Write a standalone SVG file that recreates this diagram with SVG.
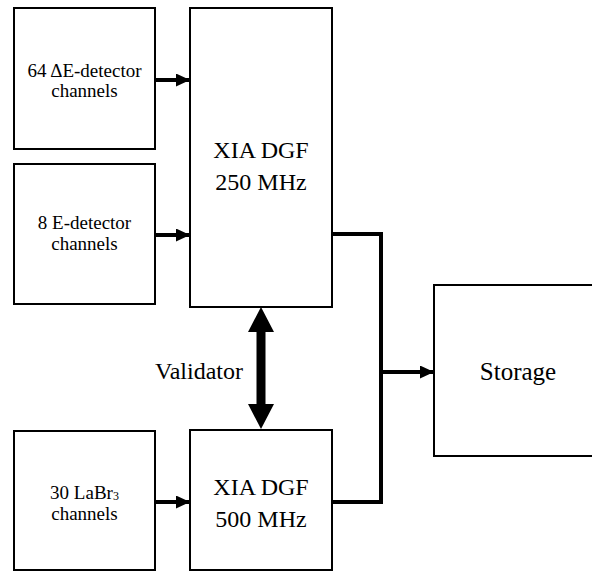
<svg xmlns="http://www.w3.org/2000/svg" width="592" height="572" viewBox="0 0 592 572">
<style>
.box{fill:#fff;stroke:#000;stroke-width:2}
.t{fill:#000;text-anchor:middle}
.s{font-size:19px}
.b{font-size:24px}
.w{fill:none;stroke:#000;stroke-width:4}
</style>
<defs>
<marker id="ah" viewBox="0 0 14 13" refX="14" refY="6.5" markerWidth="14" markerHeight="13" markerUnits="userSpaceOnUse" orient="auto">
<path d="M0,0 L14,6.5 L0,13 Z" fill="#000"/>
</marker>
</defs>
<rect width="592" height="572" fill="#fff"/>
<g font-family="Liberation Serif, Times New Roman, serif">
<g id="connectors">
<line class="w" x1="156" y1="80" x2="190" y2="80" marker-end="url(#ah)"/>
<line class="w" x1="156" y1="235" x2="190" y2="235" marker-end="url(#ah)"/>
<line class="w" x1="156" y1="502" x2="190" y2="502" marker-end="url(#ah)"/>
<polyline class="w" points="333,234 381,234 381,502 333,502"/>
<line class="w" x1="381" y1="372" x2="434" y2="372" marker-end="url(#ah)"/>
<path d="M261,307 L274,332 L265.5,332 L265.5,404 L274,404 L261,429 L248,404 L256.5,404 L256.5,332 L248,332 Z" fill="#000"/>
<text class="t b" x="199" y="379">Validator</text>
</g>
<g id="de">
<rect class="box" x="14" y="8" width="141" height="141"/>
<text class="t s" x="84.5" y="77">64 ΔE-detector</text>
<text class="t s" x="84.5" y="97">channels</text>
</g>
<g id="e">
<rect class="box" x="14" y="164" width="141" height="140"/>
<text class="t s" x="84.5" y="229">8 E-detector</text>
<text class="t s" x="84.5" y="250">channels</text>
</g>
<g id="labr">
<rect class="box" x="14" y="431" width="141" height="139"/>
<text class="t s" x="84.5" y="499">30 LaBr<tspan font-size="12" dy="1">3</tspan></text>
<text class="t s" x="84.5" y="520">channels</text>
</g>
<g id="dgf250">
<rect class="box" x="190" y="8" width="142" height="299"/>
<text class="t b" x="261" y="158">XIA DGF</text>
<text class="t b" x="261" y="190">250 MHz</text>
</g>
<g id="dgf500">
<rect class="box" x="190" y="430" width="142" height="140"/>
<text class="t b" x="261" y="495">XIA DGF</text>
<text class="t b" x="261" y="527">500 MHz</text>
</g>
<g id="storage">
<rect class="box" x="434" y="285" width="170" height="171"/>
<text class="t" font-size="25" x="518" y="380">Storage</text>
</g>
</g>
</svg>
